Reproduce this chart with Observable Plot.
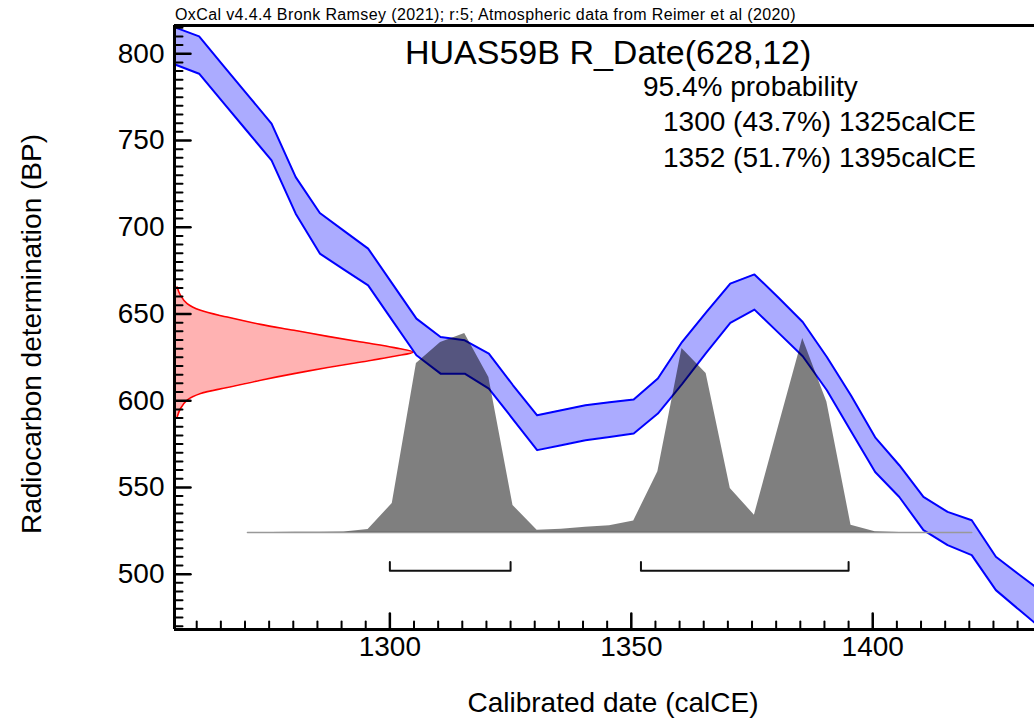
<!DOCTYPE html>
<html>
<head>
<meta charset="utf-8">
<script src="https://cdn.jsdelivr.net/npm/d3@7"></script>
<script src="https://cdn.jsdelivr.net/npm/@observablehq/plot@0.6"></script>
<style>
  body { margin: 0; background: #fff; font-family: "Liberation Sans", Arial, sans-serif; }
  #chart { position: relative; width: 1034px; height: 722px; overflow: hidden; }
  #chart svg { position: absolute; left: 0; top: 0; }
  .t { position: absolute; white-space: nowrap; line-height: 1; color: #000; }
</style>
</head>
<body>
<div id="chart">
  <div class="t" id="caption" style="left:175px;top:7px;font-size:16px;letter-spacing:0.38px;">OxCal v4.4.4 Bronk Ramsey (2021); r:5; Atmospheric data from Reimer et al (2020)</div>
  <div class="t" id="title" style="left:405px;top:35px;font-size:34px;">HUAS59B R_Date(628,12)</div>
  <div class="t" id="prob" style="left:643px;top:73px;font-size:28px;">95.4% probability</div>
  <div class="t" id="range1" style="left:663px;top:108px;font-size:28px;"></div>
  <div class="t" id="range2" style="left:663px;top:144px;font-size:28px;"></div>
  <div class="t" id="ytitle" style="left:32px;top:334px;font-size:28px;transform:translate(-50%,-50%) rotate(-90deg);">Radiocarbon determination (BP)</div>
  <div class="t" id="xtitle" style="left:613px;top:703px;font-size:28px;transform:translate(-50%,-50%);">Calibrated date (calCE)</div>
</div>
<script>
// Calibration curve (IntCal20 atmospheric), upper and lower envelope, BP
const calYears = [1255.5, 1260.5, 1265.5, 1270.5, 1275.5, 1280.5, 1285.5, 1290.5, 1295.5, 1300.5,
  1305.5, 1310.5, 1315.5, 1320.5, 1325.5, 1330.5, 1335.5, 1340.5, 1345.5, 1350.5,
  1355.5, 1360.5, 1365.5, 1370.5, 1375.5, 1380.5, 1385.5, 1390.5, 1395.5, 1400.5,
  1405.5, 1410.5, 1415.5, 1420.5, 1425.5, 1430.5, 1435.5];
const calUpper = [815.2, 810.0, 793.2, 776.5, 759.7, 728.9, 708.2, 697.9, 687.7, 667.5,
  647.3, 636.7, 634.8, 627.2, 608.9, 591.6, 594.5, 597.4, 599.1, 600.7,
  612.8, 633.8, 650.9, 667.5, 672.8, 659.4, 645.4, 625.2, 603.0, 578.9,
  562.8, 544.5, 535.9, 531.1, 510.0, 499.4, 489.0];
const calLower = [793.8, 788.5, 771.8, 755.2, 738.5, 707.8, 684.8, 675.6, 666.5, 646.3,
  626.2, 615.6, 615.6, 607.0, 589.3, 571.5, 574.3, 577.2, 579.1, 581.1,
  592.6, 609.6, 627.6, 644.8, 652.5, 639.1, 625.6, 606.0, 582.4, 558.9,
  544.5, 525.4, 516.7, 511.0, 490.8, 479.0, 467.4];

// Radiocarbon measurement R_Date(628,12): relative likelihood against BP
const dateBP = [665.5, 660.7, 656.0, 652.1, 648.2, 644.0, 640.6, 637.1, 633.8, 630.6, 628.0,
  625.6, 622.3, 619.1, 615.6, 611.8, 607.6, 604.1, 600.3, 595.5, 590.6];
const dateProb = [0.011, 0.025, 0.053, 0.109, 0.221, 0.361, 0.501, 0.642, 0.782, 0.921, 1.0,
  0.921, 0.782, 0.642, 0.501, 0.361, 0.221, 0.109, 0.053, 0.025, 0.011];

// Calibrated probability distribution (relative to its maximum)
const postYears = [1270.5, 1275.5, 1280.5, 1285.5, 1290.5, 1295.5, 1300.5, 1305.5, 1310.5, 1315.5,
  1320.5, 1325.5, 1330.5, 1335.5, 1340.5, 1345.5, 1350.5, 1355.5, 1360.5, 1365.5,
  1370.5, 1375.5, 1380.5, 1385.5, 1390.5, 1395.5, 1400.5, 1405.5, 1410.5, 1415.5, 1420.5];
const postProb = [0, 0, 0.001, 0.002, 0.003, 0.015, 0.146, 0.849, 0.955, 1.0,
  0.779, 0.136, 0.012, 0.017, 0.027, 0.034, 0.058, 0.305, 0.925, 0.799,
  0.221, 0.087, 0.533, 0.975, 0.656, 0.037, 0.004, 0, 0, 0, 0];

// 95.4% highest posterior density ranges
const rangeFrom = [1300, 1352];
const rangeTo = [1325, 1395];
const rangePct = [43.7, 51.7];

// Axis ticks
const yLabels = [500, 550, 600, 650, 700, 750, 800];
const xLabels = [1300, 1350, 1400];

// ---- layout ----
const W = 1034, H = 722;
const mL = 174, mR = 0, mT = 25, mB = 93;
const xDomain = [1255.4, 1433.5];
const yDomain = [468.1, 816.3];
const plotW = W - mL - mR, plotH = H - mT - mB;
const xPerPx = (xDomain[1] - xDomain[0]) / plotW;
const yPerPx = (yDomain[1] - yDomain[0]) / plotH;

const distBase = 524.0;     // BP level of the calibrated distribution baseline
const distSpan = 114.7;     // BP height of the distribution maximum
const dateSpan = 49.4;      // years spanned by the measurement peak
const bracketLevel = 502;   // BP level of the range brackets
const bracketTick = 5;      // BP height of bracket end ticks

const cal = calYears.map((year, i) => ({year, hi: calUpper[i], lo: calLower[i]}));
const meas = dateBP.map((bp, i) => ({bp, p: dateProb[i]}));
const post = postYears.map((year, i) => ({year, p: postProb[i]}));
const brackets = rangeFrom.flatMap((a, i) => {
  const b = rangeTo[i];
  return [
    {id: i, x: a, y: bracketLevel + bracketTick},
    {id: i, x: a, y: bracketLevel},
    {id: i, x: b, y: bracketLevel},
    {id: i, x: b, y: bracketLevel + bracketTick}
  ];
});

const yMinor = d3.range(470, 816, 5).filter(v => v % 50 !== 0);
const xMinor = d3.range(1260, 1434, 5).filter(v => v % 50 !== 0);

// inward tick segments as two-point paths (length in pixels)
const tickSegsY = (ticks, size) => ticks.flatMap((v, i) => [
  {id: i, x: xDomain[0], y: v}, {id: i, x: xDomain[0] + size * xPerPx, y: v}]);
const tickSegsX = (ticks, size) => ticks.flatMap((v, i) => [
  {id: i, x: v, y: yDomain[0]}, {id: i, x: v, y: yDomain[0] + size * yPerPx}]);

document.getElementById("range1").textContent = `${rangeFrom[0]} (${rangePct[0]}%) ${rangeTo[0]}calCE`;
document.getElementById("range2").textContent = `${rangeFrom[1]} (${rangePct[1]}%) ${rangeTo[1]}calCE`;

const chart = Plot.plot({
  width: W,
  height: H,
  marginLeft: mL,
  marginRight: mR,
  marginTop: mT,
  marginBottom: mB,
  style: {fontFamily: "'Liberation Sans', Arial, sans-serif", fontSize: "28px", background: "white", color: "black"},
  x: {domain: xDomain},
  y: {domain: yDomain},
  marks: [
    // measurement on the radiocarbon axis
    Plot.areaX(meas, {y: "bp", x1: () => xDomain[0], x2: d => xDomain[0] + d.p * dateSpan, fill: "red", fillOpacity: 0.3, curve: "catmull-rom"}),
    Plot.lineX(meas, {y: "bp", x: d => xDomain[0] + d.p * dateSpan, stroke: "red", strokeWidth: 1.6, curve: "catmull-rom"}),
    // calibration curve band
    Plot.areaY(cal, {x: "year", y1: "lo", y2: "hi", fill: "blue", fillOpacity: 0.33, clip: true}),
    Plot.lineY(cal, {x: "year", y: "hi", stroke: "blue", strokeWidth: 2, clip: true}),
    Plot.lineY(cal, {x: "year", y: "lo", stroke: "blue", strokeWidth: 2, clip: true}),
    // calibrated distribution
    Plot.lineY(post, {x: "year", y: () => distBase, stroke: "#999", strokeWidth: 1.5}),
    Plot.areaY(post, {x: "year", y1: () => distBase, y2: d => distBase + d.p * distSpan, fill: "black", fillOpacity: 0.5}),
    // 95.4% range brackets
    Plot.line(brackets, {x: "x", y: "y", z: "id", stroke: "#111", strokeWidth: 2}),
    // frame lines
    Plot.ruleY([yDomain[1]], {stroke: "black", strokeWidth: 3}),
    Plot.ruleY([yDomain[0]], {stroke: "black", strokeWidth: 3}),
    Plot.ruleX([xDomain[0]], {stroke: "black", strokeWidth: 3}),
    // inward ticks
    Plot.line(tickSegsY(yMinor, 8), {x: "x", y: "y", z: "id", stroke: "black", strokeWidth: 2}),
    Plot.line(tickSegsY(yLabels, 16), {x: "x", y: "y", z: "id", stroke: "black", strokeWidth: 2.5}),
    Plot.line(tickSegsX(xMinor, 8), {x: "x", y: "y", z: "id", stroke: "black", strokeWidth: 2}),
    Plot.line(tickSegsX(xLabels, 16), {x: "x", y: "y", z: "id", stroke: "black", strokeWidth: 2.5}),
    // tick labels
    Plot.axisY({ticks: yLabels, tickSize: 0, tickPadding: 10, label: null, tickFormat: d => String(d)}),
    Plot.axisX({ticks: xLabels, tickSize: 0, tickPadding: 7, label: null, tickFormat: d => String(d)})
  ]
});

document.getElementById("chart").prepend(chart);
</script>
</body>
</html>
